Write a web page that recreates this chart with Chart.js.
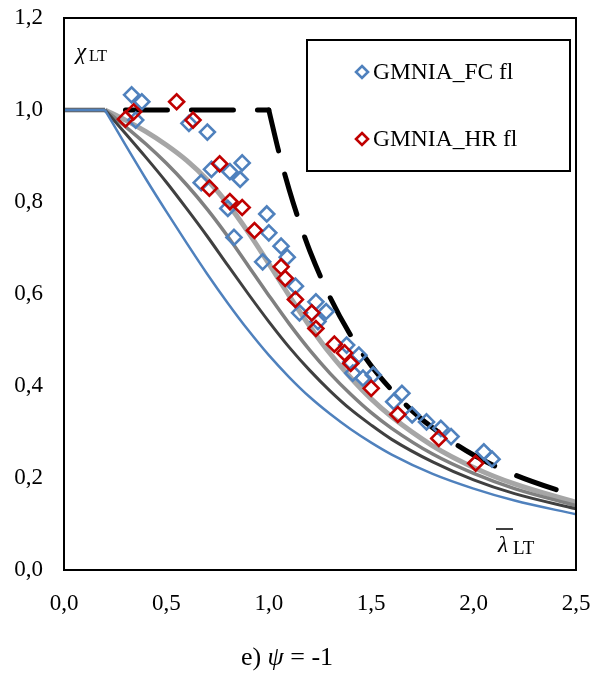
<!DOCTYPE html>
<html>
<head>
<meta charset="utf-8">
<script src="https://cdn.jsdelivr.net/npm/chart.js@4.4.1/dist/chart.umd.min.js"></script>
<style>
  html, body { margin: 0; padding: 0; background: #fff; }
  #wrap { width: 590px; height: 675px; }
</style>
</head>
<body>
<div id="wrap"><canvas id="chart" width="590" height="675"></canvas></div>
<script>
// =========================
// DATA
// =========================
const plateauLambda = [0, 0.2];
const plateauChi = [1.0, 1.0];

const curveLambda = [0.2, 0.3, 0.4, 0.5, 0.6, 0.7, 0.8, 0.9, 1.0, 1.1, 1.2, 1.3, 1.4, 1.5, 1.6, 1.8, 2.0, 2.2, 2.5];
const chiCurveA = [1.0, 0.978, 0.953, 0.924, 0.890, 0.848, 0.796, 0.734, 0.666, 0.596, 0.530, 0.470, 0.418, 0.372, 0.333, 0.270, 0.223, 0.187, 0.147];
const chiCurveB = [1.0, 0.964, 0.926, 0.884, 0.837, 0.784, 0.725, 0.661, 0.597, 0.535, 0.478, 0.427, 0.382, 0.342, 0.308, 0.252, 0.210, 0.177, 0.140];
const chiCurveC = [1.0, 0.949, 0.897, 0.843, 0.785, 0.725, 0.662, 0.600, 0.540, 0.484, 0.434, 0.389, 0.349, 0.315, 0.284, 0.235, 0.196, 0.166, 0.133];
const chiCurveD = [1.0, 0.924, 0.850, 0.779, 0.710, 0.643, 0.580, 0.521, 0.467, 0.419, 0.376, 0.339, 0.306, 0.277, 0.251, 0.209, 0.177, 0.151, 0.121];

const elasticFlatLambda = [0.3, 1.0];
const elasticFlatChi = [1.0, 1.0];
const elasticLambda = [1.0, 1.05, 1.1, 1.15, 1.2, 1.3, 1.4, 1.5, 1.6, 1.7, 1.8, 2.0, 2.2, 2.5];
const elasticChi = [1.0, 0.907, 0.826, 0.756, 0.694, 0.592, 0.510, 0.444, 0.391, 0.346, 0.309, 0.250, 0.207, 0.160];

const fcLambda = [0.33, 0.38, 0.35, 0.61, 0.70, 0.72, 0.81, 0.87, 0.86, 0.67, 0.80, 0.99, 1.00, 0.83, 1.06, 1.09, 0.97, 1.13, 1.23, 1.28, 1.15, 1.24, 1.38, 1.44, 1.41, 1.51, 1.40, 1.46, 1.65, 1.61, 1.70, 1.77, 1.84, 1.89, 2.05, 2.09];
const fcChi = [1.033, 1.018, 0.978, 0.971, 0.952, 0.871, 0.866, 0.885, 0.849, 0.842, 0.786, 0.774, 0.733, 0.723, 0.704, 0.680, 0.670, 0.617, 0.583, 0.562, 0.559, 0.540, 0.489, 0.467, 0.428, 0.424, 0.452, 0.417, 0.384, 0.366, 0.337, 0.322, 0.308, 0.290, 0.257, 0.241];

const hrLambda = [0.55, 0.34, 0.30, 0.63, 0.76, 0.71, 0.81, 0.87, 0.93, 1.06, 1.08, 1.13, 1.21, 1.23, 1.32, 1.37, 1.40, 1.50, 1.63, 1.83, 2.01];
const hrChi = [1.018, 0.996, 0.980, 0.978, 0.883, 0.830, 0.801, 0.788, 0.738, 0.659, 0.634, 0.588, 0.559, 0.525, 0.491, 0.472, 0.449, 0.395, 0.338, 0.286, 0.232];

const xTicks = [0, 0.5, 1.0, 1.5, 2.0, 2.5];
const yTicks = [0, 0.2, 0.4, 0.6, 0.8, 1.0, 1.2];

const legendNames = ["GMNIA_FC fl", "GMNIA_HR fl"];

const BLUE = "#4F81BD";
const RED = "#C00000";
const SERIF = "'Liberation Serif', 'Times New Roman', serif";

const pts = (xs, ys) => xs.map((x, i) => ({ x: x, y: ys[i] }));
const comma = v => Number(v).toFixed(1).replace(".", ",");

// =========================
// CURVES
// =========================
function curve(xs, ys, color, width, order, extra) {
  return Object.assign({
    type: "line",
    data: pts(xs, ys),
    borderColor: color,
    borderWidth: width,
    pointRadius: 0,
    fill: false,
    order: order,
    cubicInterpolationMode: "monotone"
  }, extra || {});
}

const flat = { tension: 0, cubicInterpolationMode: "default" };
const dashed = { borderDash: [42, 24], borderCapStyle: "round" };

const datasets = [
  curve(plateauLambda, plateauChi, "#A6A6A6", 5, 9, flat),
  curve(curveLambda, chiCurveA, "#A6A6A6", 5, 9),
  curve(plateauLambda, plateauChi, "#808080", 3.5, 8, flat),
  curve(curveLambda, chiCurveB, "#808080", 3.5, 8),
  curve(plateauLambda, plateauChi, "#404040", 3, 7, flat),
  curve(curveLambda, chiCurveC, "#404040", 3, 7),
  curve(plateauLambda, plateauChi, BLUE, 2.5, 6, flat),
  curve(curveLambda, chiCurveD, BLUE, 2.5, 6),
  curve(elasticFlatLambda, elasticFlatChi, "#000", 5, 5, Object.assign({}, flat, dashed)),
  curve(elasticLambda, elasticChi, "#000", 5, 5, dashed),
  {
    type: "scatter",
    label: legendNames[0],
    data: pts(fcLambda, fcChi),
    pointStyle: "rectRot",
    pointRadius: 7.5,
    pointBorderWidth: 2.6,
    pointBorderColor: BLUE,
    pointBackgroundColor: "rgba(0,0,0,0)",
    order: 2
  },
  {
    type: "scatter",
    label: legendNames[1],
    data: pts(hrLambda, hrChi),
    pointStyle: "rectRot",
    pointRadius: 7.5,
    pointBorderWidth: 2.6,
    pointBorderColor: RED,
    pointBackgroundColor: "rgba(0,0,0,0)",
    order: 1
  }
];

// =========================
// DECORATION (box, legend, labels)
// =========================
const decor = {
  id: "decor",
  afterDraw(chart) {
    const c = chart.ctx;
    const a = chart.chartArea;
    c.save();

    // plot frame
    c.strokeStyle = "#000";
    c.lineWidth = 2;
    c.strokeRect(a.left, a.top, a.right - a.left, a.bottom - a.top);

    // legend
    c.fillStyle = "#fff";
    c.fillRect(307, 40, 263, 131);
    c.strokeRect(307, 40, 263, 131);
    const rows = [[BLUE, 72], [RED, 139]];
    rows.forEach((r, i) => {
      c.strokeStyle = r[0];
      c.lineWidth = 2.6;
      c.beginPath();
      c.moveTo(362, r[1] - 6);
      c.lineTo(368, r[1]);
      c.lineTo(362, r[1] + 6);
      c.lineTo(356, r[1]);
      c.closePath();
      c.stroke();
      c.fillStyle = "#000";
      c.font = "23.5px " + SERIF;
      c.textBaseline = "middle";
      c.textAlign = "left";
      c.fillText(legendNames[i], 373, r[1] + 1);
    });

    // y axis label
    c.fillStyle = "#000";
    c.textBaseline = "alphabetic";
    c.font = "italic 23px " + SERIF;
    c.fillText("\u03C7", 76, 59);
    c.font = "16px " + SERIF;
    c.fillText("LT", 89, 61);

    // x axis label
    c.font = "italic 23px " + SERIF;
    c.fillText("\u03BB", 498, 552);
    c.lineWidth = 1.5;
    c.strokeStyle = "#000";
    c.beginPath();
    c.moveTo(496, 529);
    c.lineTo(513, 529);
    c.stroke();
    c.font = "19px " + SERIF;
    c.fillText("LT", 513, 554);

    // caption
    const parts = [["e) ", ""], ["\u03C8", "italic "], [" = -1", ""]];
    let w = 0;
    parts.forEach(p => { c.font = p[1] + "26px " + SERIF; w += c.measureText(p[0]).width; });
    let x = 287 - w / 2;
    parts.forEach(p => {
      c.font = p[1] + "26px " + SERIF;
      c.fillText(p[0], x, 665);
      x += c.measureText(p[0]).width;
    });

    c.restore();
  }
};

// =========================
// CHART
// =========================
new Chart(document.getElementById("chart"), {
  type: "scatter",
  data: { datasets: datasets },
  options: {
    responsive: false,
    animation: false,
    layout: { padding: { top: 18, right: 14, bottom: 0, left: 0 } },
    plugins: {
      legend: { display: false },
      tooltip: { enabled: false }
    },
    scales: {
      x: {
        type: "linear",
        min: 0,
        max: 2.5,
        afterFit: s => { s.height = 105; s.paddingLeft = 0; s.paddingRight = 0; },
        afterBuildTicks: s => { s.ticks = xTicks.map(v => ({ value: v })); },
        grid: { display: false, drawTicks: false },
        border: { display: false },
        ticks: {
          padding: 20,
          color: "#000",
          font: { family: SERIF, size: 23 },
          maxRotation: 0,
          callback: v => comma(v)
        }
      },
      y: {
        type: "linear",
        min: 0,
        max: 1.2,
        afterFit: s => { s.width = 64; s.paddingTop = 0; s.paddingBottom = 0; },
        afterBuildTicks: s => { s.ticks = yTicks.map(v => ({ value: v })); },
        grid: { display: false, drawTicks: false },
        border: { display: false },
        ticks: {
          padding: 21,
          color: "#000",
          font: { family: SERIF, size: 23 },
          callback: v => comma(v)
        }
      }
    }
  },
  plugins: [decor]
});
</script>
</body>
</html>
